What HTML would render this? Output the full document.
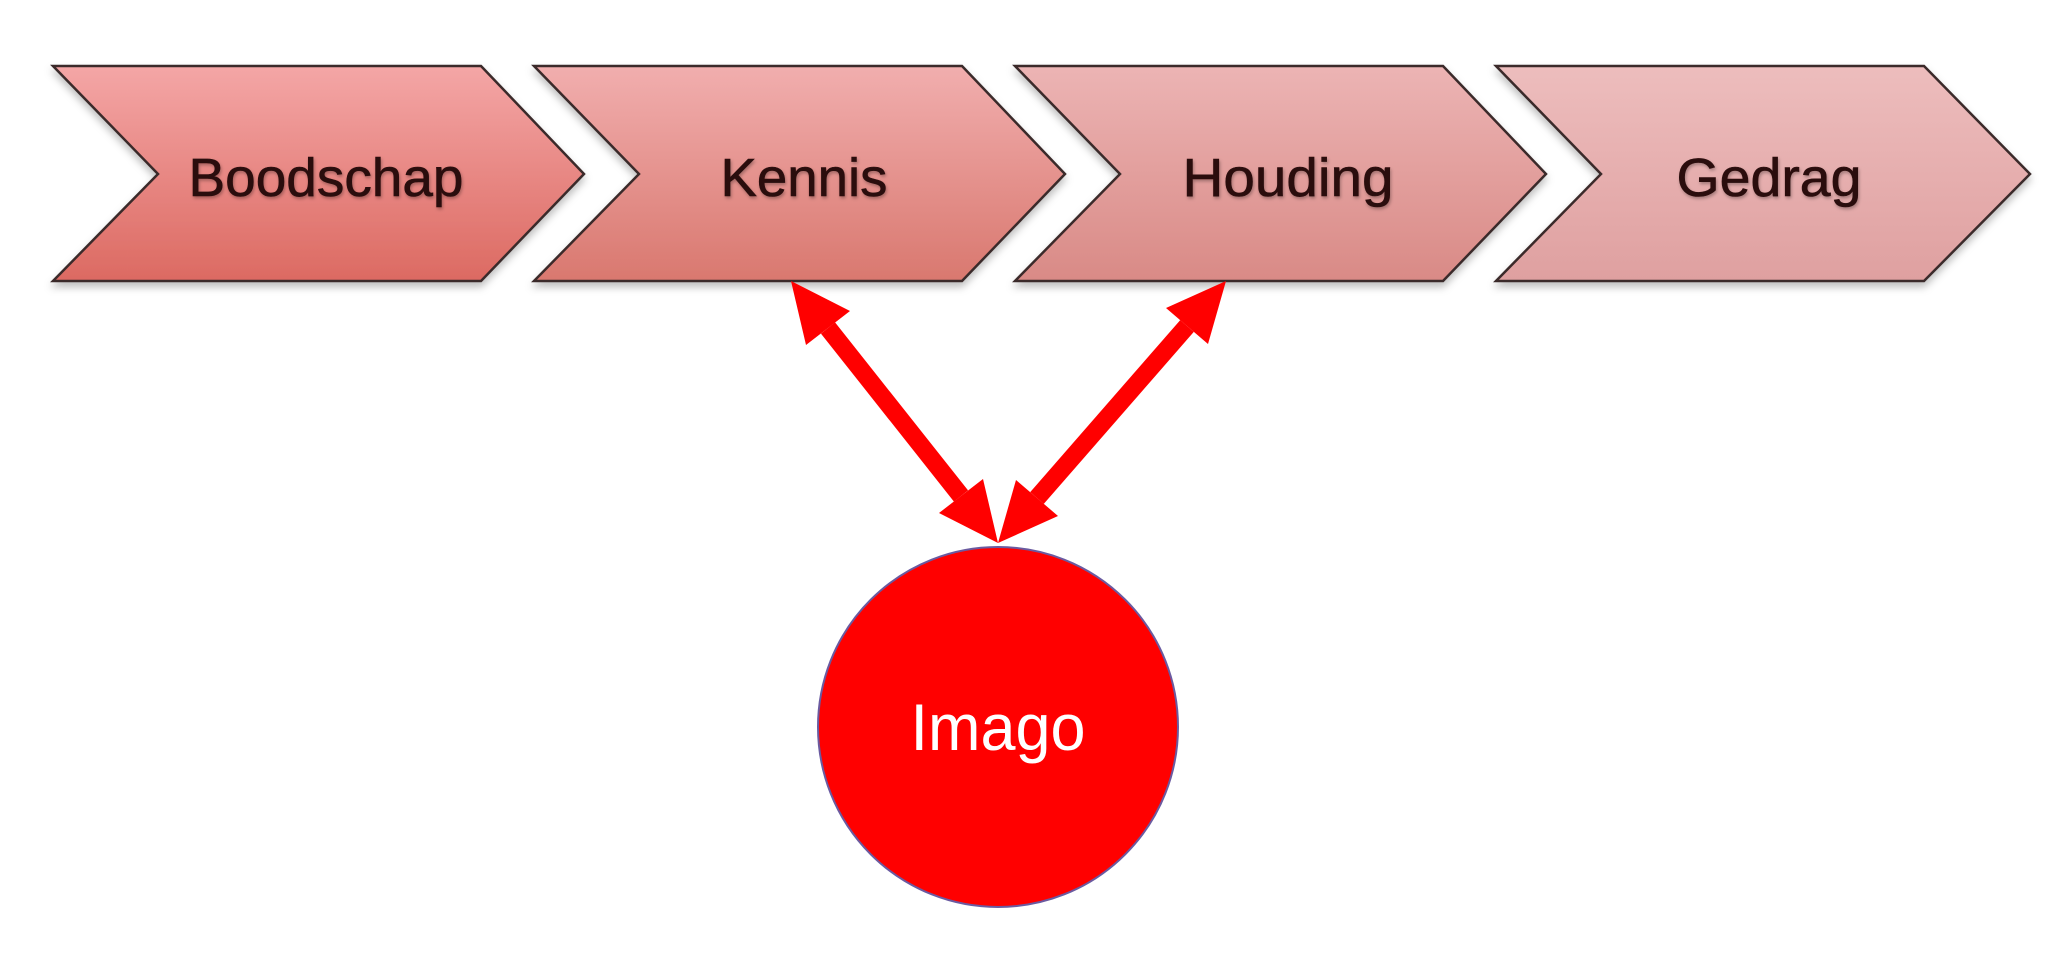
<!DOCTYPE html>
<html><head><meta charset="utf-8"><style>
html,body{margin:0;padding:0;background:#fff;}
svg{display:block;}
text{font-family:"Liberation Sans",sans-serif;}
</style></head><body>
<svg width="2067" height="964" viewBox="0 0 2067 964" xmlns="http://www.w3.org/2000/svg">
<defs>
<linearGradient id="g1" x1="0" y1="0" x2="0" y2="1"><stop offset="0" stop-color="#f4a6a6"/><stop offset="1" stop-color="#dc6a62"/></linearGradient>
<linearGradient id="g2" x1="0" y1="0" x2="0" y2="1"><stop offset="0" stop-color="#f1aeae"/><stop offset="1" stop-color="#d9786f"/></linearGradient>
<linearGradient id="g3" x1="0" y1="0" x2="0" y2="1"><stop offset="0" stop-color="#ecb4b4"/><stop offset="1" stop-color="#d98a86"/></linearGradient>
<linearGradient id="g4" x1="0" y1="0" x2="0" y2="1"><stop offset="0" stop-color="#edbdbd"/><stop offset="1" stop-color="#dfa0a0"/></linearGradient>
<filter id="sh" x="-5%" y="-5%" width="110%" height="120%"><feDropShadow dx="0" dy="5" stdDeviation="4" flood-color="#000" flood-opacity="0.25"/></filter>
<filter id="ts"><feDropShadow dx="1" dy="2" stdDeviation="1.5" flood-color="#000" flood-opacity="0.3"/></filter>
</defs>
<g stroke="#3a2a2a" stroke-width="2.5" filter="url(#sh)">
<polygon points="53,66 481,66 584,174 481,281 53,281 158,174" fill="url(#g1)"/>
<polygon points="534,66 962,66 1065,174 962,281 534,281 639,174" fill="url(#g2)"/>
<polygon points="1015,66 1443,66 1546,174 1443,281 1015,281 1120,174" fill="url(#g3)"/>
<polygon points="1496,66 1924,66 2030,174 1924,281 1496,281 1601,174" fill="url(#g4)"/>
</g>
<g fill="#2a0a0a" font-size="54" text-anchor="middle" filter="url(#ts)" stroke="#2a0a0a" stroke-width="0.6">
<text x="326" y="196" textLength="275" lengthAdjust="spacingAndGlyphs">Boodschap</text>
<text x="804" y="196" textLength="167" lengthAdjust="spacingAndGlyphs">Kennis</text>
<text x="1288" y="196" textLength="211" lengthAdjust="spacingAndGlyphs">Houding</text>
<text x="1769" y="196" textLength="185" lengthAdjust="spacingAndGlyphs">Gedrag</text>
</g>
<circle cx="998" cy="727" r="180" fill="#ff0000" stroke="#6a5aa0" stroke-width="2"/>
<text x="998" y="750" font-size="66" fill="#fff" text-anchor="middle" textLength="175" lengthAdjust="spacingAndGlyphs">Imago</text>
<g stroke="#ff0000" stroke-width="18" fill="none">
<line x1="828" y1="328" x2="961" y2="496"/>
<line x1="1187" y1="326" x2="1037" y2="498"/>
</g>
<g fill="#ff0000">
<polygon points="791,281 806,345 850,311"/>
<polygon points="998,543 939,513 983,479"/>
<polygon points="1226,281 1208,344 1166,308"/>
<polygon points="998,543 1058,516 1016,480"/>
</g>
</svg>
</body></html>
